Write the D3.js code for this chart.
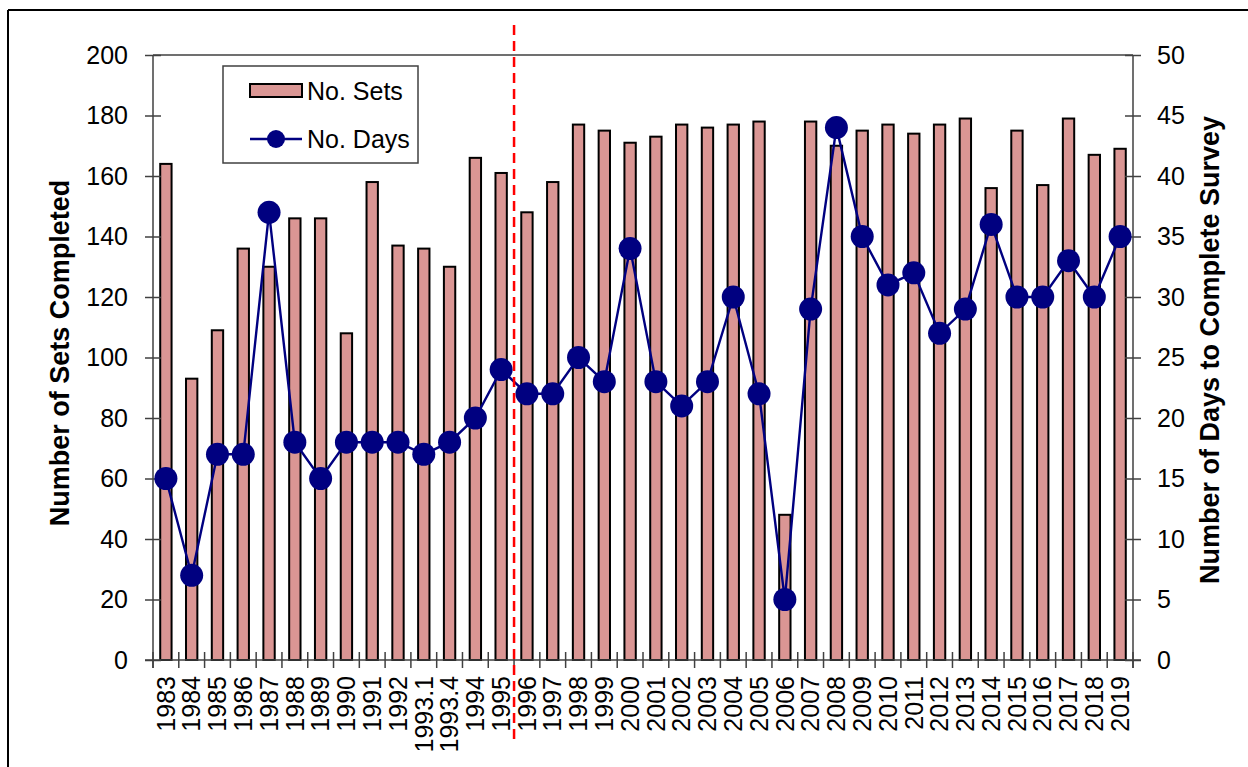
<!DOCTYPE html>
<html><head><meta charset="utf-8">
<script src="https://cdn.jsdelivr.net/npm/d3@7"></script>
<style>
html,body{margin:0;padding:0;background:#fff;}
svg{display:block;font-family:"Liberation Sans",Arial,sans-serif;}
</style></head>
<body>
<svg id="chart" width="1248" height="767"></svg>
<script>
const categories = ["1983","1984","1985","1986","1987","1988","1989","1990","1991","1992","1993.1","1993.4","1994","1995","1996","1997","1998","1999","2000","2001","2002","2003","2004","2005","2006","2007","2008","2009","2010","2011","2012","2013","2014","2015","2016","2017","2018","2019"];
const noSets = [164,93,109,136,130,146,146,108,158,137,136,130,166,161,148,158,177,175,171,173,177,176,177,178,48,178,170,175,177,174,177,179,156,175,157,179,167,169];
const noDays = [15,7,17,17,37,18,15,18,18,18,17,18,20,24,22,22,25,23,34,23,21,23,30,22,5,29,44,35,31,32,27,29,36,30,30,33,30,35];
const leftTicks = [0,20,40,60,80,100,120,140,160,180,200];
const rightTicks = [0,5,10,15,20,25,30,35,40,45,50];
const dividerAfter = "1995";

const svg = d3.select("#chart");
const L = 153, R = 1133, T = 55, B = 660;
const x = d3.scaleBand().domain(categories).range([L, R]).paddingInner(0.56).paddingOuter(0.28);
const yL = d3.scaleLinear().domain([0, 200]).range([B, T]);
const yR = d3.scaleLinear().domain([0, 50]).range([B, T]);
const step = x.step(), bw = x.bandwidth();
const slotStart = c => x(c) - (step - bw) / 2;

const axisColor = "#404040";
const FS = 25;

// outer frame (left & top)
svg.append("line").attr("x1", 8).attr("x2", 8).attr("y1", 10).attr("y2", 767).attr("stroke", "#000").attr("stroke-width", 2);
svg.append("line").attr("x1", 8).attr("x2", 1248).attr("y1", 10).attr("y2", 10).attr("stroke", "#000").attr("stroke-width", 2);

// top plot border
svg.append("line").attr("x1", L).attr("x2", R).attr("y1", T).attr("y2", T).attr("stroke", axisColor).attr("stroke-width", 1.5);

// bars
svg.append("g").selectAll("rect").data(categories).join("rect")
  .attr("x", c => x(c)).attr("width", bw)
  .attr("y", (c, i) => yL(noSets[i])).attr("height", (c, i) => B - yL(noSets[i]))
  .attr("fill", "#DA9694").attr("stroke", "#000").attr("stroke-width", 2);

// left axis
const gl = svg.append("g").attr("transform", `translate(${L},0)`)
  .call(d3.axisLeft(yL).tickValues(leftTicks).tickSizeInner(8).tickSizeOuter(0).tickPadding(17));
gl.select(".domain").attr("stroke", axisColor).attr("stroke-width", 1.5).attr("d", `M0,${B + 8}V${T}`);
gl.selectAll(".tick line").attr("x1", -8).attr("x2", 8).attr("stroke", axisColor).attr("stroke-width", 1.5);
gl.selectAll(".tick text").attr("font-size", FS).attr("fill", "#000").attr("font-family", "Liberation Sans, Arial, sans-serif");

// right axis
const gr = svg.append("g").attr("transform", `translate(${R},0)`)
  .call(d3.axisRight(yR).tickValues(rightTicks).tickSizeInner(8).tickSizeOuter(0).tickPadding(16));
gr.select(".domain").attr("stroke", axisColor).attr("stroke-width", 1.5).attr("d", `M0,${B + 8}V${T}`);
gr.selectAll(".tick line").attr("x1", -8).attr("x2", 8).attr("stroke", axisColor).attr("stroke-width", 1.5);
gr.selectAll(".tick text").attr("font-size", FS).attr("fill", "#000").attr("font-family", "Liberation Sans, Arial, sans-serif");

// x axis
svg.append("line").attr("x1", L - 8).attr("x2", R + 8).attr("y1", B).attr("y2", B).attr("stroke", axisColor).attr("stroke-width", 1.5);
const bounds = categories.map(slotStart).concat([R]);
svg.append("g").selectAll("line").data(bounds).join("line")
  .attr("x1", d => d).attr("x2", d => d).attr("y1", B - 8).attr("y2", B + 8)
  .attr("stroke", axisColor).attr("stroke-width", 1.5);
svg.append("g").selectAll("text").data(categories).join("text")
  .attr("transform", c => `translate(${x(c) + bw / 2},${B + 16}) rotate(-90)`)
  .attr("text-anchor", "end").attr("dy", "0.35em")
  .attr("font-size", FS).attr("fill", "#000").text(c => c);

// days line
const line = d3.line().x((d, i) => x(categories[i]) + bw / 2).y(d => yR(d));
svg.append("path").datum(noDays).attr("d", line).attr("fill", "none").attr("stroke", "#000080").attr("stroke-width", 2.4);
svg.append("g").selectAll("circle").data(noDays).join("circle")
  .attr("cx", (d, i) => x(categories[i]) + bw / 2).attr("cy", d => yR(d)).attr("r", 11.5)
  .attr("fill", "#000080");

// divider
const dx = slotStart(categories[categories.indexOf(dividerAfter) + 1]);
svg.append("line").attr("x1", dx).attr("x2", dx).attr("y1", 25).attr("y2", 745)
  .attr("stroke", "#FF0000").attr("stroke-width", 2.5).attr("stroke-dasharray", "10,6");

// axis titles
svg.append("text").attr("transform", `translate(60,353) rotate(-90)`)
  .attr("text-anchor", "middle").attr("dy", "0.35em").attr("font-size", 27).attr("font-weight", "bold")
  .text("Number of Sets Completed");
svg.append("text").attr("transform", `translate(1210,350) rotate(-90)`)
  .attr("text-anchor", "middle").attr("dy", "0.35em").attr("font-size", 27).attr("font-weight", "bold")
  .text("Number of Days to Complete Survey");

// legend
const lg = svg.append("g");
lg.append("rect").attr("x", 223).attr("y", 66).attr("width", 195).attr("height", 97)
  .attr("fill", "#fff").attr("stroke", axisColor).attr("stroke-width", 1.5);
lg.append("rect").attr("x", 250).attr("y", 84).attr("width", 52).attr("height", 13)
  .attr("fill", "#DA9694").attr("stroke", "#000").attr("stroke-width", 2);
lg.append("text").attr("x", 307).attr("y", 91).attr("dy", "0.35em").attr("font-size", FS).text("No. Sets");
lg.append("line").attr("x1", 250).attr("x2", 302).attr("y1", 139).attr("y2", 139).attr("stroke", "#000080").attr("stroke-width", 2.4);
lg.append("circle").attr("cx", 276).attr("cy", 139).attr("r", 9).attr("fill", "#000080");
lg.append("text").attr("x", 307).attr("y", 139).attr("dy", "0.35em").attr("font-size", FS).text("No. Days");
</script>
</body></html>
